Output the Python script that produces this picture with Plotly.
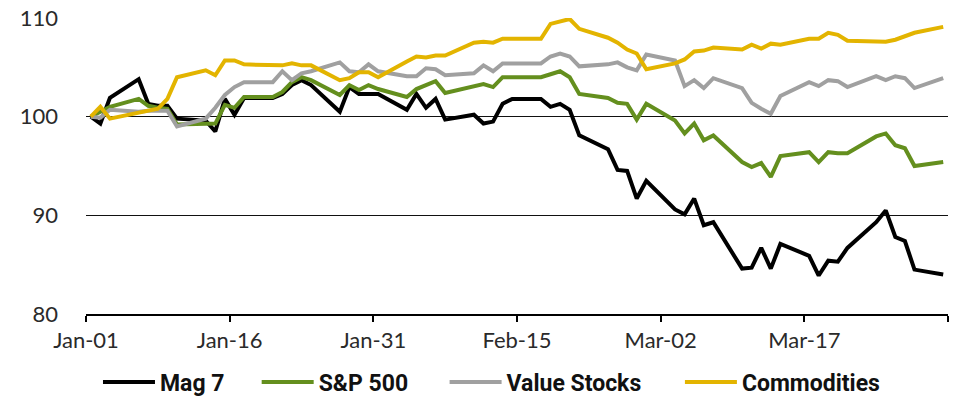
import pandas as pd
import plotly.graph_objects as go

dates = [
    "2025-01-01", "2025-01-02", "2025-01-03", "2025-01-06", "2025-01-07", "2025-01-08", "2025-01-09", "2025-01-10",
    "2025-01-13", "2025-01-14", "2025-01-15", "2025-01-16", "2025-01-17", "2025-01-20", "2025-01-21", "2025-01-22",
    "2025-01-23", "2025-01-24", "2025-01-27", "2025-01-28", "2025-01-29", "2025-01-30", "2025-01-31", "2025-02-03",
    "2025-02-04", "2025-02-05", "2025-02-06", "2025-02-07", "2025-02-10", "2025-02-11", "2025-02-12", "2025-02-13",
    "2025-02-14", "2025-02-17", "2025-02-18", "2025-02-19", "2025-02-20", "2025-02-21", "2025-02-24", "2025-02-25",
    "2025-02-26", "2025-02-27", "2025-02-28", "2025-03-03", "2025-03-04", "2025-03-05", "2025-03-06", "2025-03-07",
    "2025-03-10", "2025-03-11", "2025-03-12", "2025-03-13", "2025-03-14", "2025-03-17", "2025-03-18", "2025-03-19",
    "2025-03-20", "2025-03-21", "2025-03-24", "2025-03-25", "2025-03-26", "2025-03-27", "2025-03-28", "2025-03-31",
]

mag7 = [
    100.0, 99.3, 101.9, 103.8, 101.3, 101.1, 101.1, 99.8,
    99.6, 98.5, 101.8, 100.2, 101.9, 101.9, 102.3, 103.2,
    103.7, 103.2, 100.5, 103.0, 102.3, 102.3, 102.3, 100.7,
    102.3, 100.9, 101.8, 99.7, 100.2, 99.3, 99.5, 101.3,
    101.8, 101.8, 101.0, 101.3, 100.7, 98.1, 96.7, 94.6,
    94.5, 91.7, 93.5, 90.6, 90.1, 91.7, 89.0, 89.3,
    84.6, 84.7, 86.7, 84.6, 87.1, 85.9, 83.9, 85.4,
    85.3, 86.7, 89.3, 90.5, 87.8, 87.4, 84.5, 84.0,
]

sp500 = [
    100.0, 100.5, 101.0, 101.8, 101.1, 100.9, 100.8, 99.2,
    99.2, 99.3, 101.2, 100.9, 102.0, 102.0, 102.5, 103.5,
    104.0, 103.7, 102.2, 103.2, 102.7, 103.2, 102.8, 102.0,
    102.8, 103.2, 103.6, 102.4, 103.1, 103.3, 103.0, 104.0,
    104.0, 104.0, 104.3, 104.6, 104.0, 102.3, 101.9, 101.4,
    101.3, 99.7, 101.3, 99.6, 98.3, 99.3, 97.6, 98.1,
    95.4, 94.9, 95.3, 93.9, 96.0, 96.4, 95.4, 96.4,
    96.3, 96.3, 98.0, 98.3, 97.1, 96.8, 95.0, 95.4,
]

value_stocks = [
    100.0, 99.9, 100.7, 100.5, 100.6, 100.6, 100.6, 99.0,
    99.8, 100.9, 102.2, 103.0, 103.5, 103.5, 104.6, 103.7,
    104.4, 104.6, 105.5, 104.6, 104.5, 105.3, 104.6, 104.1,
    104.1, 104.9, 104.8, 104.2, 104.4, 105.2, 104.6, 105.4,
    105.4, 105.4, 106.1, 106.4, 106.1, 105.1, 105.3, 105.5,
    105.0, 104.7, 106.3, 105.7, 103.1, 103.7, 102.9, 103.9,
    102.9, 101.4, 100.8, 100.3, 102.1, 103.5, 103.1, 103.7,
    103.6, 103.0, 104.1, 103.7, 104.1, 103.9, 102.9, 103.9,
]

commodities = [
    100.0, 101.0, 99.8, 100.4, 100.6, 100.8, 101.8, 104.0,
    104.7, 104.2, 105.7, 105.7, 105.3, 105.3, 105.2, 105.4,
    105.2, 105.2, 103.7, 103.9, 104.5, 104.5, 104.0, 105.6,
    106.1, 106.0, 106.2, 106.2, 107.5, 107.6, 107.5, 107.9,
    107.9, 107.9, 109.4, 109.7, 109.9, 108.9, 108.0, 107.5,
    106.8, 106.4, 104.8, 105.4, 105.8, 106.6, 106.7, 107.0,
    106.8, 107.3, 106.9, 107.4, 107.3, 107.9, 107.9, 108.5,
    108.3, 107.7, 107.6, 107.6, 107.8, 108.2, 108.5, 109.1,
]

series_names = ["Mag 7", "S&P 500", "Value Stocks", "Commodities"]
series_colors = ["#000000", "#648F1E", "#A0A0A0", "#E3B400"]
tick_dates = ["2025-01-01", "2025-01-16", "2025-01-31", "2025-02-15", "2025-03-02", "2025-03-17", "2025-04-01"]
tick_labels = ["Jan-01", "Jan-16", "Jan-31", "Feb-15", "Mar-02", "Mar-17", ""]
y_ticks = [80, 90, 100, 110]

# each trading day is drawn at the middle of its day slot (date axis "between tick marks")
x = pd.to_datetime(dates) + pd.Timedelta(hours=12)

# legend entries placed individually (paper x of each entry)
legend_x = [0.0139, 0.198, 0.416, 0.689]
legend_ids = ["legend", "legend2", "legend3", "legend4"]

fig = go.Figure()
for name, vals, col, lid in zip(series_names, [mag7, sp500, value_stocks, commodities], series_colors, legend_ids):
    fig.add_trace(go.Scatter(x=x, y=vals, mode="lines", name=name, legend=lid, showlegend=True,
                             line=dict(color=col, width=4)))

tick_font = dict(family="Lato, sans-serif", size=22, color="#2a2a2a")
legend_font = dict(family="Roboto, sans-serif", size=23, color="#111111", weight=700)

layout_legends = {}
for lid, lx in zip(legend_ids, legend_x):
    layout_legends[lid] = dict(orientation="h", x=lx, xanchor="left", y=-0.23, yanchor="middle",
                               font=legend_font, itemwidth=52, bgcolor="rgba(0,0,0,0)",
                               borderwidth=0, visible=True)

fig.update_layout(
    width=953, height=403,
    margin=dict(l=86, r=5, t=18, b=89, autoexpand=False),
    showlegend=True,
    plot_bgcolor="white", paper_bgcolor="white",
    xaxis=dict(type="date", range=["2025-01-01", "2025-04-01"],
               tickvals=tick_dates, ticktext=tick_labels,
               showline=True, linecolor="black", linewidth=2,
               ticks="outside", ticklen=6, tickwidth=1.5, tickcolor="black",
               showgrid=False, zeroline=False, tickfont=tick_font, ticklabelstandoff=0),
    yaxis=dict(range=[80, 110], tickvals=y_ticks, showgrid=True, gridcolor="#111111", gridwidth=1.3,
               zeroline=False, showline=False, ticks="", tickfont=tick_font, ticklabelstandoff=27,
               ticklabeloverflow="allow"),
    **layout_legends,
)

# remove the browser's default 8px body margin so the figure sits at the page corner
fig.write_html("out.html", config={"displayModeBar": False},
               post_script="document.body.style.margin='0px';")
